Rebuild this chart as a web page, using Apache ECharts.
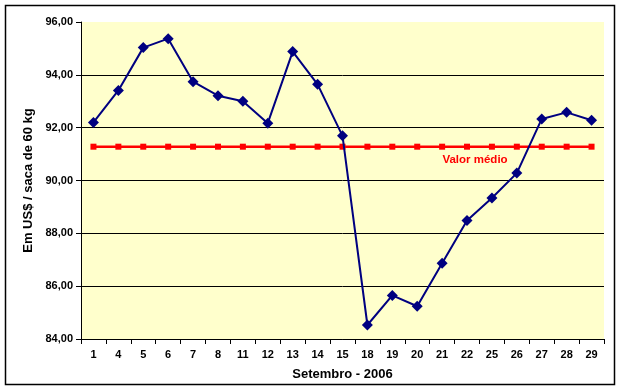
<!DOCTYPE html>
<html>
<head>
<meta charset="utf-8">
<script src="https://cdn.jsdelivr.net/npm/echarts@6/dist/echarts.min.js"></script>
<style>
html,body{margin:0;padding:0;background:#fff;}
#c{width:621px;height:392px;}
</style>
</head>
<body>
<div id="c"></div>
<script>
var categories = ['1','4','5','6','7','8','11','12','13','14','15','18','19','20','21','22','25','26','27','28','29'];
var prices = [92.20,93.41,95.03,95.37,93.74,93.21,93.00,92.17,94.88,93.64,91.69,84.53,85.65,85.24,86.87,88.49,89.34,90.28,92.33,92.58,92.28];
var meanValue = 91.28;
var meanLabel = 'Valor médio';
var meanLabelIndex = 15;
var yTicks = {min: 84, max: 96, interval: 2};

var font = '"Liberation Sans", Arial, sans-serif';
var meanData = categories.map(function (c, i) {
  if (i === meanLabelIndex) {
    return {value: meanValue, label: {show: true, formatter: meanLabel, position: 'bottom', offset: [8, -1],
      color: '#FF0000', fontWeight: 'bold', fontSize: 11.5, fontFamily: font}};
  }
  return meanValue;
});

var chart = echarts.init(document.getElementById('c'), null, {renderer: 'canvas'});
chart.setOption({
  backgroundColor: '#ffffff',
  animation: false,
  grid: {left: 81, right: 17, top: 22, bottom: 53, show: true, backgroundColor: '#FFFFCC', borderWidth: 0},
  xAxis: {
    type: 'category', data: categories, boundaryGap: true,
    name: 'Setembro - 2006', nameLocation: 'middle', nameGap: 29,
    nameTextStyle: {color: '#000', fontWeight: 'bold', fontSize: 13, fontFamily: font},
    axisLine: {lineStyle: {color: '#000', width: 1}},
    axisTick: {show: true, length: 5, lineStyle: {color: '#000'}},
    axisLabel: {color: '#000', fontWeight: 'bold', fontSize: 11, fontFamily: font, margin: 10, interval: 0}
  },
  yAxis: {
    type: 'value', min: yTicks.min, max: yTicks.max, interval: yTicks.interval,
    name: 'Em US$ / saca de 60 kg', nameLocation: 'middle', nameGap: 40,
    nameTextStyle: {color: '#000', fontWeight: 'bold', fontSize: 13, fontFamily: font},
    axisLine: {show: true, lineStyle: {color: '#000', width: 1}},
    axisTick: {show: true, length: 5, lineStyle: {color: '#000'}},
    axisLabel: {color: '#000', fontWeight: 'bold', fontSize: 11, fontFamily: font, margin: 8,
      formatter: function (v) { return v.toFixed(2).replace('.', ','); }},
    splitLine: {show: true, lineStyle: {color: ['#000', '#000', '#000', '#000', '#000', '#000', '#FFFFCC'], width: 1}}
  },
  series: [
    {
      type: 'line', data: prices, symbol: 'diamond', symbolSize: 11,
      itemStyle: {color: '#000080'}, lineStyle: {color: '#000080', width: 2}, z: 3
    },
    {
      type: 'line', data: meanData, symbol: 'rect', symbolSize: 6,
      itemStyle: {color: '#FF0000'}, lineStyle: {color: '#FF0000', width: 2.5}, z: 2
    }
  ],
  graphic: [{
    type: 'rect', shape: {x: 5.5, y: 5.5, width: 609, height: 379},
    style: {fill: 'none', stroke: '#000', lineWidth: 1.5}, silent: true
  }]
});
</script>
</body>
</html>
